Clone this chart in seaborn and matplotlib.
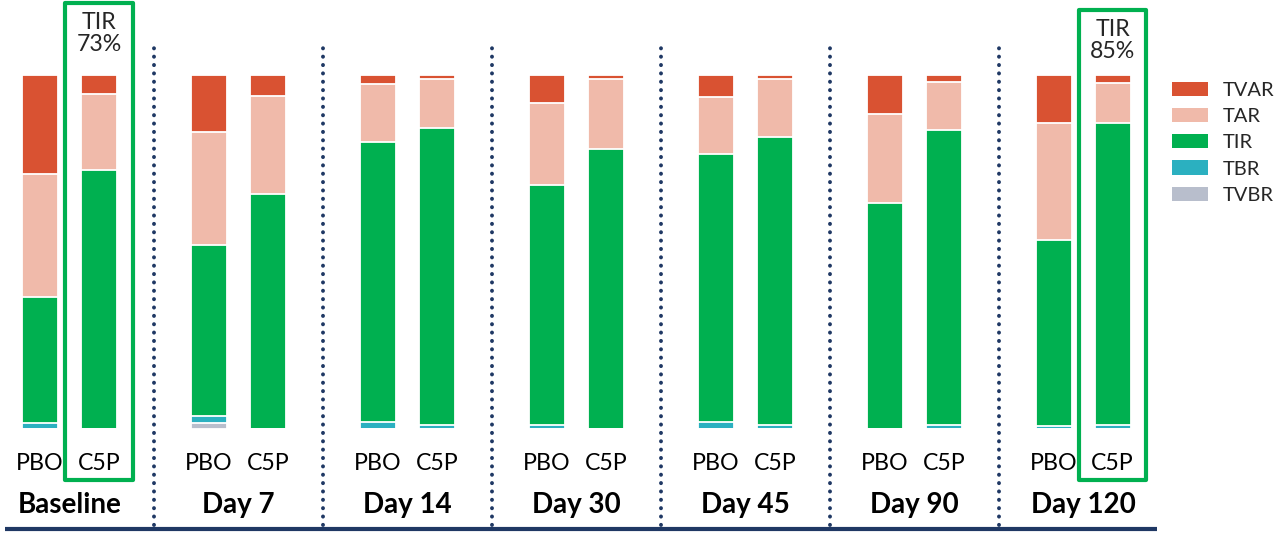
import numpy as np
import pandas as pd
import matplotlib
matplotlib.use("Agg")
import matplotlib.pyplot as plt
import matplotlib.transforms as mtransforms
import seaborn as sns
from matplotlib.patches import Rectangle, Patch

# ---------------- data ----------------
groups = ["Baseline", "Day 7", "Day 14", "Day 30", "Day 45", "Day 90", "Day 120"]
arms = ["PBO", "C5P"]
categories = ["TVAR", "TAR", "TIR", "TBR", "TVBR"]  # legend order (top to bottom)

tvar_pbo = [28.0, 16.1, 2.5, 7.9, 6.2, 11.0, 13.6]
tar_pbo = [34.7, 31.9, 16.4, 23.2, 16.1, 25.1, 33.1]
tir_pbo = [35.7, 48.3, 79.2, 67.8, 75.7, 63.9, 52.5]
tbr_pbo = [1.6, 2.0, 1.9, 1.1, 2.0, 0.0, 0.8]
tvbr_pbo = [0.0, 1.7, 0.0, 0.0, 0.0, 0.0, 0.0]

tvar_c5p = [5.4, 5.9, 1.0, 1.1, 1.1, 2.0, 2.3]
tar_c5p = [21.5, 27.7, 14.1, 19.8, 16.3, 13.6, 11.3]
tir_c5p = [73.1, 66.4, 83.7, 79.1, 81.6, 83.4, 85.4]
tbr_c5p = [0.0, 0.0, 1.2, 0.0, 1.0, 1.0, 1.0]
tvbr_c5p = [0.0, 0.0, 0.0, 0.0, 0.0, 0.0, 0.0]

highlighted = [("Baseline", "C5P"), ("Day 120", "C5P")]

# ---------------- styles ----------------
colors = {"TVAR": "#D95232", "TAR": "#F0BAAA", "TIR": "#00B050",
          "TBR": "#2BB0C0", "TVBR": "#B8BECC"}
navy = "#1F3864"
box_green = "#00B050"

sns.set_theme(style="white")
plt.rcParams["font.family"] = ["Lato", "DejaVu Sans"]

# ---------------- frame ----------------
series = {
    "PBO": dict(TVAR=tvar_pbo, TAR=tar_pbo, TIR=tir_pbo, TBR=tbr_pbo, TVBR=tvbr_pbo),
    "C5P": dict(TVAR=tvar_c5p, TAR=tar_c5p, TIR=tir_c5p, TBR=tbr_c5p, TVBR=tvbr_c5p),
}
rows = []
for gi, g in enumerate(groups):
    for arm in arms:
        r = {"group": g, "arm": arm}
        for c in categories:
            r[c] = series[arm][c][gi]
        rows.append(r)
df = pd.DataFrame(rows)
bottom_up = ["TVBR", "TBR", "TIR", "TAR", "TVAR"]
cum = df[bottom_up].cumsum(axis=1)
for c in bottom_up:
    df["top_" + c] = cum[c]

# ---------------- figure ----------------
fig = plt.figure(figsize=(12.88, 5.37), dpi=100)
ax = fig.add_axes([0, 0, 1, 1])

for c in categories:  # draw tallest cumulative first
    sns.barplot(data=df, x="group", y="top_" + c, hue="arm", order=groups,
                hue_order=arms, palette={a: colors[c] for a in arms},
                width=0.70, gap=0.39, saturation=1, errorbar=None,
                edgecolor="white", linewidth=1.3, legend=False, ax=ax)

ax.set_xlim(-0.4127, 7.213)
ax.set_ylim(-30.51, 121.19)
ax.axis("off")

# bar centres from the first layer
centres = {}
for cont, arm in zip(ax.containers[:2], arms):
    xs = sorted(p.get_x() + p.get_width() / 2 for p in cont)
    for g, x in zip(groups, xs):
        centres[(g, arm)] = x

# arm labels and group labels
for (g, arm), x in centres.items():
    ax.text(x, -11.6, arm, ha="center", va="baseline", fontsize=16.7,
            color="black")
for gi, g in enumerate(groups):
    ax.text(gi, -23.7, g, ha="center", va="baseline", fontsize=20,
            fontweight="bold", color="black")

# dotted dividers
for gi in range(len(groups) - 1):
    ax.plot([gi + 0.5, gi + 0.5], [-27.2, 107.6], color=navy, lw=2.8,
            linestyle=(0, (0.05, 2.1)), dash_capstyle="round")

# bottom rule
blend = mtransforms.blended_transform_factory(ax.transAxes, ax.transData)
ax.plot([0.0039, 0.898], [-28.3, -28.3], color=navy, lw=3.0,
        transform=blend, solid_capstyle="butt")

# highlighted boxes with TIR annotation
box_tops = [120.3, 118.4]
for (g, arm), top in zip(highlighted, box_tops):
    x = centres[(g, arm)]
    gi = groups.index(g)
    tir_val = series[arm]["TIR"][gi]
    w = 0.40
    ax.add_patch(Rectangle((x - w / 2, -14.4), w, top + 14.4, fill=False,
                           edgecolor=box_green, lw=3.0, joinstyle="round"))
    ax.text(x, top - 7.4, "TIR", ha="center", va="baseline", fontsize=16.7)
    ax.text(x, top - 13.6, f"{round(tir_val)}%", ha="center", va="baseline",
            fontsize=16.7)

# legend
handles = [Patch(facecolor=colors[c], edgecolor="none", label=c) for c in categories]
fig.legend(handles=handles, loc="upper left",
           bbox_to_anchor=(1172 / 1288, 1 - 82 / 537), frameon=False,
           fontsize=14.5, handlelength=1.8, handleheight=0.7,
           handletextpad=0.72, labelspacing=0.45, borderpad=0, borderaxespad=0)

fig.savefig("out.png", dpi=100)
